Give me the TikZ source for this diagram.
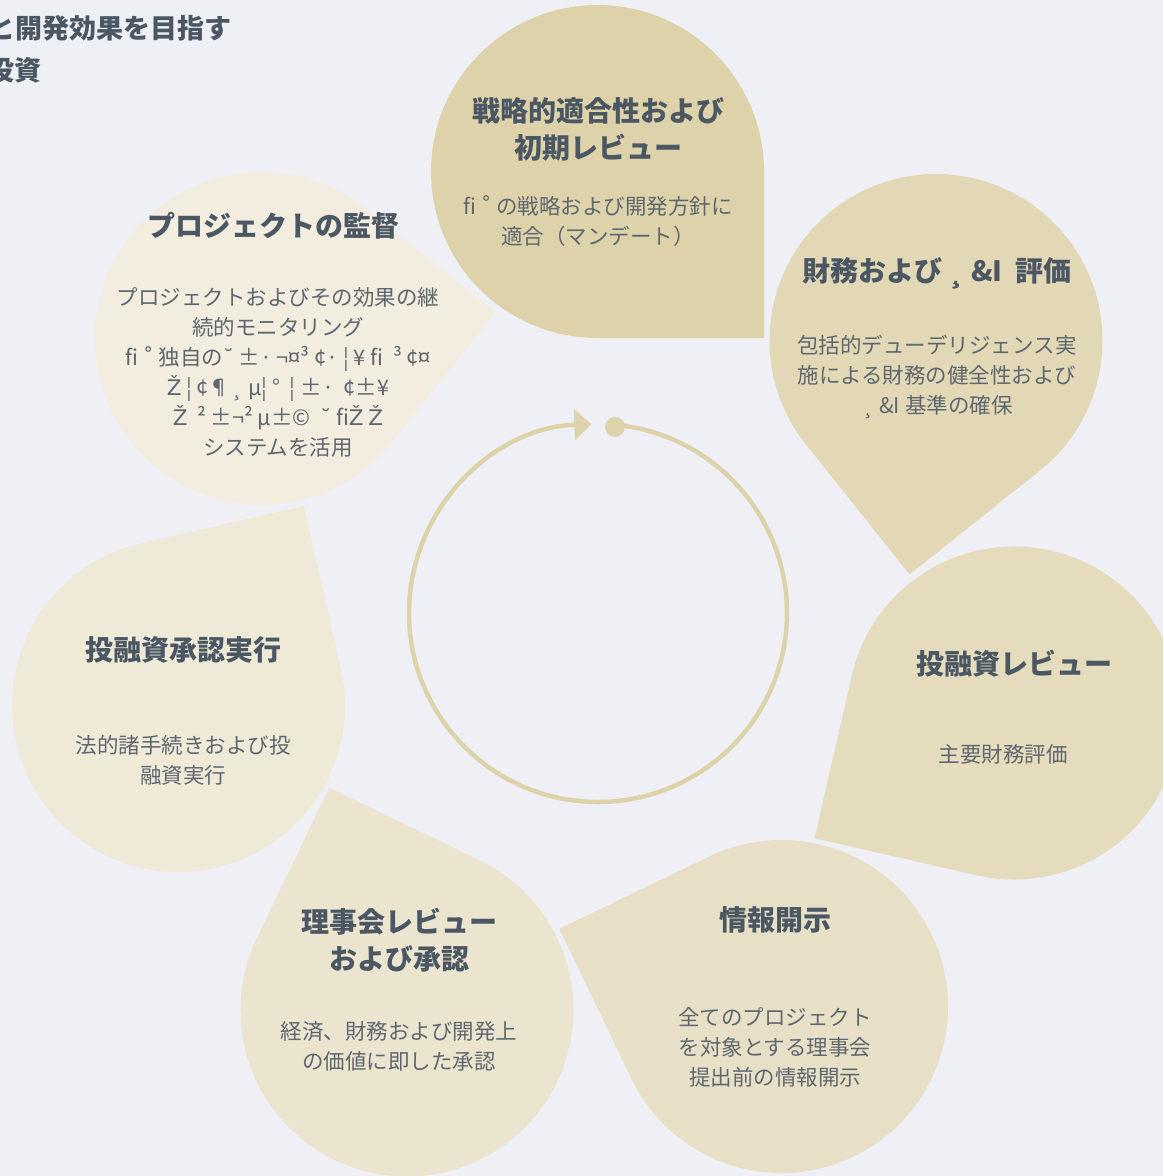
\documentclass[tikz,border=0pt]{standalone}
\usepackage{fontspec}
\setmainfont{Noto Sans CJK JP}
\newfontfamily\dvfont{DejaVu Sans}
\newcommand\gZ{{\dvfont Ž}}
\newcommand\gB{{\dvfont ˘}}
\newcommand\gR{{\dvfont ˚}}
\usetikzlibrary{arrows.meta}
\definecolor{bgc}{HTML}{EFF0F5}
\definecolor{titlec}{HTML}{4B5864}
\definecolor{bodyc}{HTML}{5E6770}
\definecolor{ringc}{HTML}{DDD3AA}
\definecolor{cA}{HTML}{DDD2A9}
\definecolor{cB}{HTML}{E2D8B6}
\definecolor{cC}{HTML}{E5DCBE}
\definecolor{cD}{HTML}{E8E0C6}
\definecolor{cE}{HTML}{EBE5CF}
\definecolor{cF}{HTML}{EFE9D7}
\definecolor{cG}{HTML}{F2EDDF}
\newcommand\petalshape[4]{%
  \begin{scope}[shift={(#1,-#2)},rotate={-51.4286*#3}]
    \fill[#4] (166.5,0) -- (166.5,-166.5) -- (0,-166.5)
      arc[start angle=-90,end angle=-360,radius=166.5pt] -- cycle;
  \end{scope}}
\tikzset{
  ttl/.style={font=\fontsize{28}{37}\selectfont\bfseries, text=titlec, align=center, inner sep=0pt},
  bdy/.style={font=\fontsize{21.5}{30}\selectfont, text=bodyc, align=center, inner sep=0pt},
  head/.style={font=\fontsize{27}{42}\selectfont\bfseries, text=titlec, anchor=west, inner sep=0pt},
}
\begin{document}
\begin{tikzpicture}[x=1pt,y=1pt]
\useasboundingbox (0,0) rectangle (1163,-1176);
\clip (0,0) rectangle (1163,-1176);
\fill[bgc] (0,0) rectangle (1163,-1176);

% heading (partly outside, as in the reference)
\node[head] (h1) at (-12,-28) {と開発効果を目指す};
\node[head] (h2) at (-13,-70) {投資};

% petals
\petalshape{597.5}{171.5}{0}{cA}
\petalshape{936}{340.5}{1}{cB}
\petalshape{1014}{713}{2}{cC}
\petalshape{781.5}{1006.5}{3}{cD}
\petalshape{407}{1010}{4}{cE}
\petalshape{178.5}{705.5}{5}{cF}
\petalshape{261.5}{338.5}{6}{cG}

% ring
\node[circle, fill=ringc, minimum size=20pt, inner sep=0pt] (dot) at (615,-427) {};
\draw[ringc, line width=4.5pt, -{Triangle[length=17pt,width=30pt]}]
  ([shift={(84.8:189)}]598,-613) arc[start angle=84.8, end angle=-268, radius=189pt];

% texts
\node[ttl] (t0) at (598,-129.5) {戦略的適合性および\\初期レビュー};
\node[bdy] (b0) at (598,-221.5) {fi \gR\ の戦略および開発方針に\\適合（マンデート）};

\node[ttl] (t1) at (937,-273) {財務および\,¸ \&I\ \ 評価};
\node[bdy] (b1) at (937,-377.5) {包括的デューデリジェンス実\\施による財務の健全性および\\¸ \&I\ 基準の確保};

\node[ttl] (t2) at (1014,-664) {投融資レビュー};
\node[bdy] (b2) at (1003,-754) {主要財務評価};

\node[ttl] (t3) at (775,-920) {情報開示};
\node[bdy] (b3) at (775,-1047) {全てのプロジェクト\\を対象とする理事会\\提出前の情報開示};

\node[ttl] (t4) at (399,-940.5) {理事会レビュー\\および承認};
\node[bdy] (b4) at (399,-1046.5) {経済、財務および開発上\\の価値に即した承認};

\node[ttl] (t5) at (183,-650) {投融資承認実行};
\node[bdy] (b5) at (183,-760.5) {法的諸手続きおよび投\\融資実行};

\node[ttl] (t6) at (273,-226) {プロジェクトの監督};
\node[bdy] (b6) at (278,-372) {プロジェクトおよびその効果の継\\続的モニタリング\\fi \gR\ 独自の\gB\ ±· ¬¤³ ¢· ¦ ¥ fi\ \ ³ ¢¤\\\gZ\ ¦ ¢¶¸ µ¦ °\ \ ¦ ±·\ \ ¢±¥\\\gZ\ \ ² ±¬² µ±©\ \ \gB\ fi\gZ\ \gZ\\システムを活用};
\end{tikzpicture}
\end{document}
